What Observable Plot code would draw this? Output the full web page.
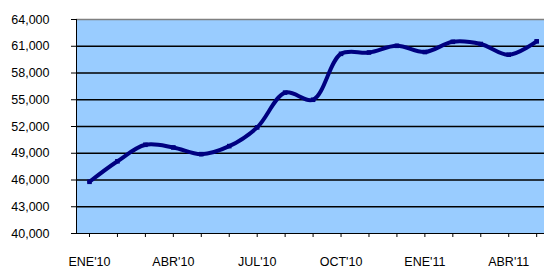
<!DOCTYPE html>
<html>
<head>
<meta charset="utf-8">
<script src="https://cdn.jsdelivr.net/npm/d3@7"></script>
<script src="https://cdn.jsdelivr.net/npm/@observablehq/plot@0.6"></script>
<style>
  html, body { margin: 0; padding: 0; background: #fff; overflow: hidden; }
  #chart svg { display: block; overflow: hidden; }
</style>
</head>
<body>
<div id="chart"></div>
<script>
const months = ["ENE'10","FEB'10","MAR'10","ABR'10","MAY'10","JUN'10","JUL'10","AGO'10","SEP'10","OCT'10","NOV'10","DIC'10","ENE'11","FEB'11","MAR'11","ABR'11","MAY'11"];
const values = [45800, 48100, 49950, 49650, 48900, 49800, 51900, 55800, 55000, 60150, 60300, 61050, 60350, 61500, 61250, 60050, 61550];
const labeledMonths = ["ENE'10","ABR'10","JUL'10","OCT'10","ENE'11","ABR'11"];
const yTicks = [40000, 43000, 46000, 49000, 52000, 55000, 58000, 61000, 64000];

const data = months.map((m, i) => ({i, month: m, value: values[i]}));
const idx = months.map((m, i) => i);
const fmt = d3.format(",");

const plot = Plot.plot({
  width: 544,
  height: 269,
  marginTop: 19,
  marginBottom: 36,
  marginLeft: 76,
  marginRight: 0,
  style: {fontFamily: "'Liberation Sans', Arial, sans-serif", fontSize: "12.5px", color: "#000", background: "#fff"},
  x: {type: "linear", domain: [-0.465, 16.28]},
  y: {domain: [40000, 64000]},
  marks: [
    Plot.frame({fill: "#99CCFF", stroke: null}),
    Plot.ruleY(yTicks.filter(t => t !== 40000 && t !== 64000), {stroke: "#000", strokeWidth: 1.3}),
    Plot.ruleY([64000], {stroke: "#808080", strokeWidth: 1.3}),
    Plot.axisY({ticks: yTicks, tickFormat: fmt, tickSize: 5, tickPadding: 22, stroke: "#000", strokeWidth: 1, label: null}),
    Plot.axisX({ticks: idx, tickFormat: i => labeledMonths.includes(months[i]) ? months[i] : "", tickSize: 4, tickPadding: 20, label: null}),
    Plot.ruleX([-0.465], {stroke: "#000", strokeWidth: 1}),
    Plot.ruleY([40000], {stroke: "#000", strokeWidth: 1}),
    Plot.line(data, {x: "i", y: "value", stroke: "#000080", strokeWidth: 4, curve: "catmull-rom"}),
    Plot.dot(data, {x: "i", y: "value", symbol: "square", r: 2.6, fill: "#000080", stroke: null})
  ]
});
document.getElementById("chart").appendChild(plot);
</script>
</body>
</html>
